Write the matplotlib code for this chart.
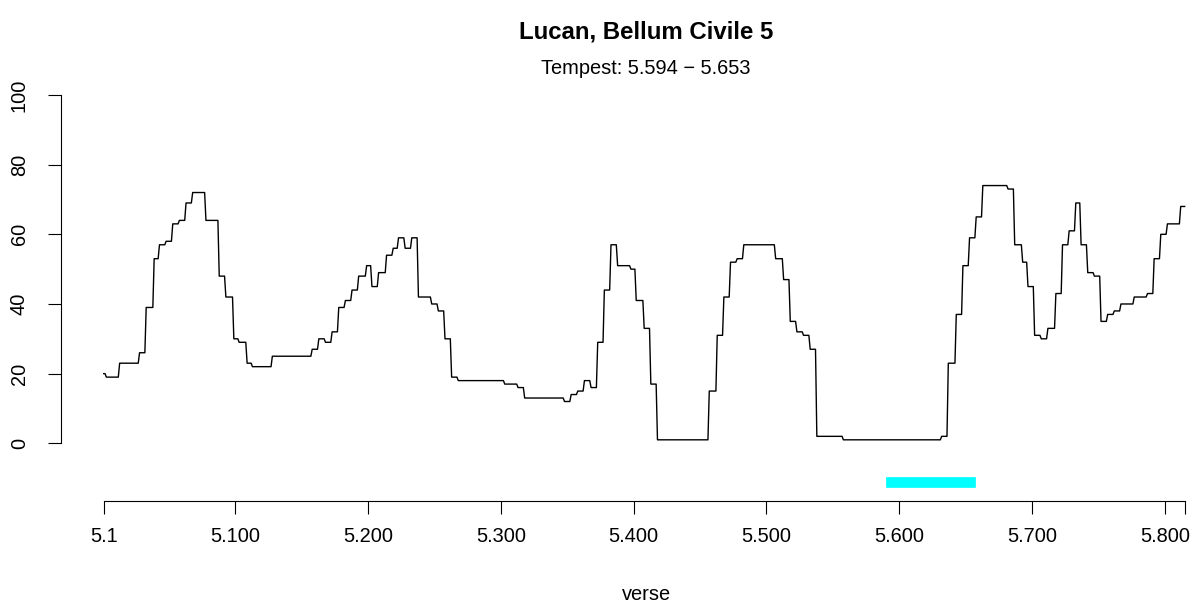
import numpy as np
import matplotlib
matplotlib.use("Agg")
import matplotlib.pyplot as plt

plt.rcParams['font.family'] = ['Liberation Sans', 'DejaVu Sans']

# Step-run representation of the curve: run start verse and value
run_start = [1, 3, 13, 28, 33, 39, 43, 48, 53, 58, 63, 68, 78, 88, 93, 99, 103, 109, 113, 128,
             158, 163, 168, 173, 178, 183, 188, 193, 199, 203, 208, 214, 219, 223, 228, 233, 238,
             248, 253, 258, 263, 268, 303, 313, 318, 348, 353, 358, 363, 368, 373, 378, 383, 388,
             398, 402, 408, 413, 418, 457, 463, 468, 473, 478, 483, 507, 513, 518, 523, 528, 533,
             538, 558, 632, 637, 643, 648, 653, 658, 663, 682, 687, 693, 697, 702, 707, 712, 718,
             723, 728, 733, 737, 742, 747, 752, 757, 762, 767, 777, 787, 792, 797, 802, 812]
run_value = [20, 19, 23, 26, 39, 53, 57, 58, 63, 64, 69, 72, 64, 48, 42, 30, 29, 23, 22, 25,
             27, 30, 29, 32, 39, 41, 44, 48, 51, 45, 49, 54, 56, 59, 56, 59, 42,
             40, 38, 30, 19, 18, 17, 16, 13, 12, 14, 15, 18, 16, 29, 44, 57, 51,
             50, 41, 33, 17, 1, 15, 31, 42, 52, 53, 57, 53, 47, 35, 32, 31, 27,
             2, 1, 2, 23, 37, 51, 59, 65, 74, 73, 57, 52, 45, 31, 30, 33, 43,
             57, 61, 69, 57, 49, 48, 35, 37, 38, 40, 42, 43, 53, 60, 63, 68]
last_verse = 815

tick_verses = [1, 100, 200, 300, 400, 500, 600, 700, 800, 815]
tick_labels = ["5.1", "5.100", "5.200", "5.300", "5.400", "5.500", "5.600", "5.700", "5.800", ""]
y_ticks = [0, 20, 40, 60, 80, 100]

tempest_start, tempest_end = 594, 653
tempest_y = -11

title = "Lucan, Bellum Civile 5"
subtitle = "Tempest: 5.594 \u2212 5.653"
xlabel = "verse"

# expand runs
bounds = run_start[1:] + [last_verse + 1]
lengths = np.array(bounds) - np.array(run_start)
y = np.repeat(run_value, lengths)
x = np.arange(1, last_verse + 1)

W, H = 1197, 604
fig = plt.figure(figsize=(W / 100, H / 100), dpi=100)

# layout in pixels
L_px, R_px, B_px, T_px = 60.7, 1190.0, 501.0, 79.0
x0_px, x_scale = 103.7, 1.328
y0_px, y_scale = 443.3, 3.483
ax = fig.add_axes([L_px / W, 1 - B_px / H, (R_px - L_px) / W, (B_px - T_px) / H])
ax.set_xlim(1 - (x0_px - L_px) / x_scale, 1 + (R_px - x0_px) / x_scale)
ax.set_ylim((y0_px - B_px) / y_scale, (y0_px - T_px) / y_scale)

ax.plot(x, y, color='black', lw=1.0)
ax.plot([tempest_start, tempest_end], [tempest_y, tempest_y], color='#00FFFF', lw=7.7,
        solid_capstyle='projecting')

for s in ['top', 'right']:
    ax.spines[s].set_visible(False)
ax.spines['left'].set_bounds(0, 100)
ax.spines['bottom'].set_bounds(1, 815)
for s in ['left', 'bottom']:
    ax.spines[s].set_linewidth(0.8)

ax.set_xticks(tick_verses)
ax.set_xticklabels(tick_labels)
ax.set_yticks(y_ticks)
ax.set_yticklabels([str(v) for v in y_ticks], rotation=90, va='center')
ax.tick_params(axis='both', length=9.5, width=0.8, labelsize=14.4)
ax.tick_params(axis='x', pad=9.4)
ax.tick_params(axis='y', pad=13.5)

cx = 646 / W
fig.text(cx, 1 - 32 / H, title, ha='center', va='center', fontsize=17.3, fontweight='bold')
fig.text(cx, 1 - 68 / H, subtitle, ha='center', va='center', fontsize=14.4)
fig.text(cx, 1 - 595 / H, xlabel, ha='center', va='center', fontsize=14.4)

fig.savefig("out.png", dpi=100)
